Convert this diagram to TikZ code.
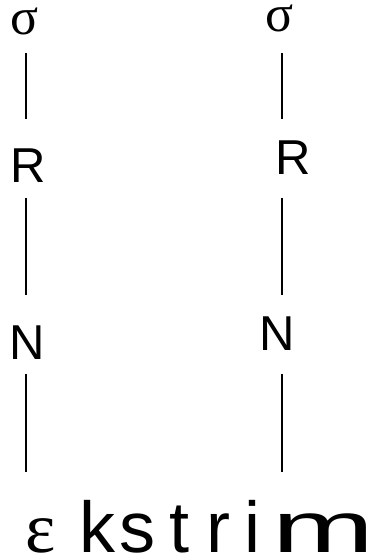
\documentclass[tikz,border=0pt]{standalone}
\usepackage{fontspec}
\setmainfont{Liberation Sans}
\newfontfamily\grk{Liberation Serif}
\usepackage{graphicx}
\usetikzlibrary{positioning}

\begin{document}
\begin{tikzpicture}[
    x=1pt, y=1pt,
    lbl/.style={inner sep=0pt, anchor=base, text height=35pt, text depth=0pt, font=\fontsize{49}{49}\selectfont},
    sig/.style={lbl, text height=22pt, font=\grk\fontsize{52}{52}\selectfont},
    wrd/.style={inner sep=0pt, anchor=base, text height=55pt, text depth=0pt, font=\fontsize{72}{72}\selectfont},
    link/.style={line width=1.6pt}
]
\useasboundingbox (0,0) rectangle (385,557);

% columns of the two trees
\coordinate (colL) at (26,0);
\coordinate (colR) at (282,0);

% left tree
\node[sig] (sigL) at (24.5,522) {σ};
\node[lbl] (rL) at (28,374) {R};
\node[lbl] (nL) at (27.5,197) {N};

% right tree
\node[sig] (sigR) at (280,525) {σ};
\node[lbl] (rR) at (293,382) {R};
\node[lbl] (nR) at (277.5,206) {N};

% the word
\node[wrd, font=\grk\fontsize{72}{72}\selectfont] (w1) at (40.5,5) {ε};
\node[wrd] (w2) at (97.5,5) {k};
\node[wrd] (w3) at (137.5,5) {s};
\node[wrd] (w4) at (179,5) {t};
\node[wrd] (w5) at (218.5,5) {r};
\node[wrd] (w6) at (252.5,5) {i};
\node[wrd] (w7) at (323,5) {\scalebox{1.7}[1]{m}};

\draw[link, shorten <=18pt, shorten >=29pt] (sigL.south -| colL) -- (rL.north -| colL);
\draw[link, shorten <=15pt, shorten >=30pt] (rL.south -| colL) -- (nL.north -| colL);
\draw[link, shorten <=14pt, shorten >=25pt] (nL.south -| colL) -- (w1.north -| colL);

\draw[link, shorten <=21pt, shorten >=21pt] (sigR.south -| colR) -- (rR.north -| colR);
\draw[link, shorten <=23pt, shorten >=21pt] (rR.south -| colR) -- (nR.north -| colR);
\draw[link, shorten <=23pt, shorten >=25pt] (nR.south -| colR) -- (w7.north -| colR);
\end{tikzpicture}
\end{document}
